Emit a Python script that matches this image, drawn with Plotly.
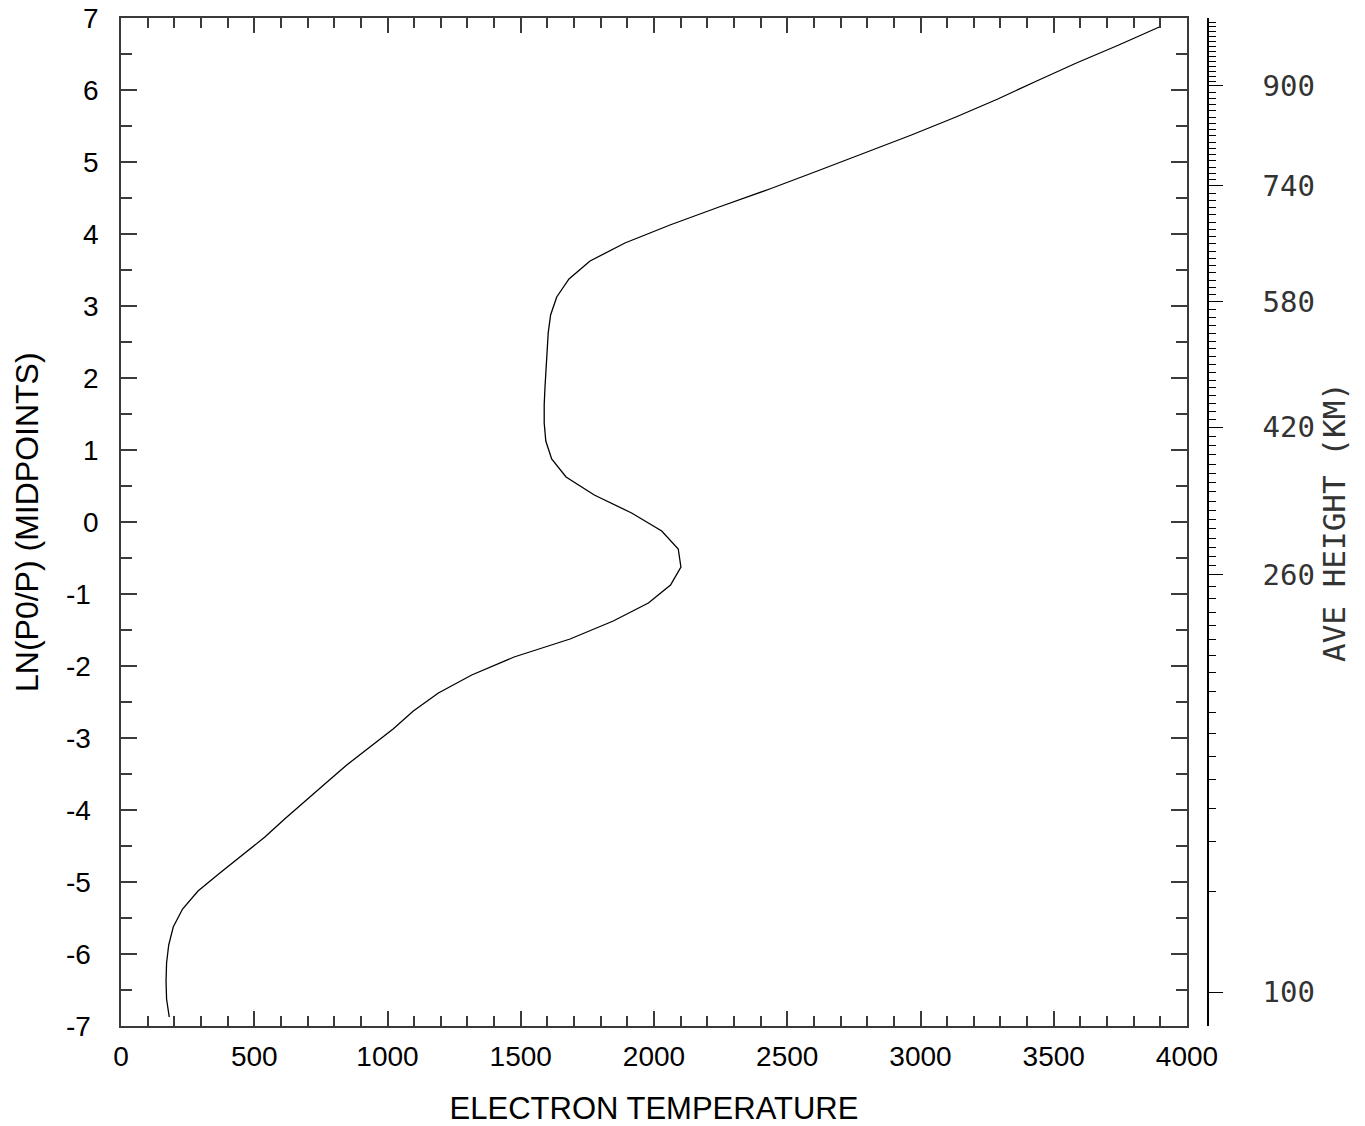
import numpy as np
import plotly.graph_objects as go

# ---- data: electron temperature vs ln(P0/P) at layer midpoints ----
LN_MID = [-6.875, -6.625, -6.375, -6.125, -5.875, -5.625, -5.375, -5.125,
          -4.875, -4.625, -4.375, -4.125, -3.875, -3.625, -3.375, -3.125,
          -2.875, -2.625, -2.375, -2.125, -1.875, -1.625, -1.375, -1.125,
          -0.875, -0.625, -0.375, -0.125, 0.125, 0.375, 0.625, 0.875,
          1.125, 1.375, 1.625, 1.875, 2.125, 2.375, 2.625, 2.875,
          3.125, 3.375, 3.625, 3.875, 4.125, 4.375, 4.625, 4.875,
          5.125, 5.375, 5.625, 5.875, 6.125, 6.375, 6.625, 6.875]
TEMP = [181, 171, 169, 171, 179, 196, 231, 289,
        371, 455, 540, 614, 690, 769, 847, 933,
        1021, 1097, 1191, 1316, 1475, 1685, 1847, 1979,
        2062, 2101, 2091, 2029, 1916, 1776, 1670, 1616,
        1594, 1588, 1588, 1591, 1595, 1597, 1603, 1612,
        1635, 1681, 1760, 1891, 2060, 2244, 2434, 2613,
        2792, 2966, 3133, 3290, 3436, 3585, 3744, 3896]

# ---- main axes tick labels ----
X_TICKS = [0, 500, 1000, 1500, 2000, 2500, 3000, 3500, 4000]
X_TICKTEXT = ["0", "500", "1000", "1500", "2000", "2500", "3000", "3500", "4000"]
Y_TICKS = [7, 6, 5, 4, 3, 2, 1, 0, -1, -2, -3, -4, -5, -6, -7]
Y_TICKTEXT = ["7", "6", "5", "4", "3", "2", "1", "0", "-1", "-2", "-3", "-4", "-5", "-6", "-7"]
Y_TITLE = "LN(P0/P) (MIDPOINTS)"

# ---- average-height axis (km) and where it sits on the ln(P0/P) scale ----
HEIGHT_LABELS = [100, 260, 420, 580, 740, 900]
HEIGHT_LABEL_LN = [-6.528, -0.736, 1.319, 3.056, 4.667, 6.056]
HEIGHT_LOW_MINOR = [110, 120, 130, 140, 150, 160, 170, 180, 190, 200, 210, 220, 230, 240, 250]
HEIGHT_LOW_MINOR_LN = [-5.125, -4.444, -3.986, -3.583, -3.25, -2.931, -2.639, -2.361,
                       -2.097, -1.861, -1.625, -1.444, -1.25, -1.069, -0.889]
HEIGHT_ANCHOR = [260, 420, 580, 740, 900, 1030]
HEIGHT_ANCHOR_LN = [-0.736, 1.319, 3.056, 4.667, 6.056, 6.944]

upper_heights = [h for h in range(270, 1031, 10) if h not in HEIGHT_LABELS]
upper_ln = list(np.interp(upper_heights, HEIGHT_ANCHOR, HEIGHT_ANCHOR_LN))
minor_ln = HEIGHT_LOW_MINOR_LN + upper_ln

# negative labels sit a little further left in the original (padding with a no-break space)
y_ticktext_shown = [t + "\u00a0" if t.startswith("-") else t for t in Y_TICKTEXT]

AXC = "#3a3a3a"
SANS = "Liberation Sans, Arial, Helvetica, sans-serif"
MONO = "DejaVu Sans Mono, Liberation Mono, monospace"

fig = go.Figure()
fig.add_trace(go.Scatter(x=TEMP, y=LN_MID, mode="lines",
                         line=dict(color="black", width=1.3),
                         showlegend=False, hoverinfo="x+y"))
# invisible companion trace so the overlaid height axis is rendered
fig.add_trace(go.Scatter(x=TEMP, y=LN_MID, mode="lines", yaxis="y2",
                         line=dict(color="rgba(0,0,0,0)", width=0),
                         showlegend=False, hoverinfo="skip"))

W, H = 1365, 1126
ml, mt = 121, 18
axis2_x = 1208          # x of the height axis
main_right = 1187       # x of the right edge of the box
bottom = 1026           # y of the bottom of the box
mr = W - axis2_x
mb = H - bottom
paper_w = axis2_x - ml
main_w = main_right - ml

fig.update_layout(
    width=W, height=H,
    margin=dict(l=ml, r=mr, t=mt, b=mb, autoexpand=False),
    paper_bgcolor="white", plot_bgcolor="white",
    showlegend=False,
    xaxis=dict(
        domain=[0, main_w / paper_w], range=[0, 4000], automargin=False,
        tickmode="array", tickvals=X_TICKS, ticktext=X_TICKTEXT,
        ticks="inside", ticklen=15, tickwidth=1.5, tickcolor=AXC,
        minor=dict(tickmode="linear", tick0=0, dtick=100, ticks="inside",
                   ticklen=10, tickwidth=1.5, tickcolor=AXC, showgrid=False),
        showline=True, linecolor=AXC, linewidth=1.5, mirror="ticks",
        showgrid=False, zeroline=False, ticklabeloverflow="allow",
        tickfont=dict(family=SANS, size=28, color="black"),
        ticklabelstandoff=5,
        title=dict(text="ELECTRON TEMPERATURE", font=dict(family=SANS, size=31, color="black"),
                   standoff=26),
    ),
    yaxis=dict(
        range=[-7, 7], automargin=False,
        tickmode="array", tickvals=Y_TICKS, ticktext=y_ticktext_shown,
        ticks="inside", ticklen=16, tickwidth=1.5, tickcolor=AXC,
        minor=dict(tickmode="linear", tick0=-7, dtick=0.5, ticks="inside",
                   ticklen=11, tickwidth=1.5, tickcolor=AXC, showgrid=False),
        showline=True, linecolor=AXC, linewidth=1.5, mirror="ticks",
        showgrid=False, zeroline=False, ticklabeloverflow="allow",
        tickfont=dict(family=SANS, size=28, color="black"),
        ticklabelstandoff=15,
    ),
    yaxis2=dict(
        overlaying="y", anchor="free", position=1.0, side="right",
        range=[-7, 7], automargin=False,
        tickmode="array", tickvals=HEIGHT_LABEL_LN, ticktext=[str(h) for h in HEIGHT_LABELS],
        ticks="outside", ticklen=14, tickwidth=1.3, tickcolor="black",
        minor=dict(tickmode="array", tickvals=minor_ln, ticks="outside",
                   ticklen=7, tickwidth=1.3, tickcolor="black", showgrid=False),
        showline=True, linecolor="black", linewidth=1.5,
        showgrid=False, zeroline=False, ticklabeloverflow="allow",
        tickfont=dict(family=MONO, size=29, color="#333"),
        ticklabelstandoff=34,
        title=dict(text="AVE HEIGHT (KM)", font=dict(family=MONO, size=31, color="#333"),
                   standoff=8),
    ),
    annotations=[dict(
        text=Y_TITLE, textangle=-90, showarrow=False,
        xref="paper", x=0, xanchor="center", xshift=-94,
        yref="paper", y=0.5, yanchor="middle",
        font=dict(family=SANS, size=32, color="black"),
    )],
)

fig.write_html("out.html", config={"displayModeBar": False},
               post_script="document.body.style.margin='0';document.body.style.overflow='hidden';")
